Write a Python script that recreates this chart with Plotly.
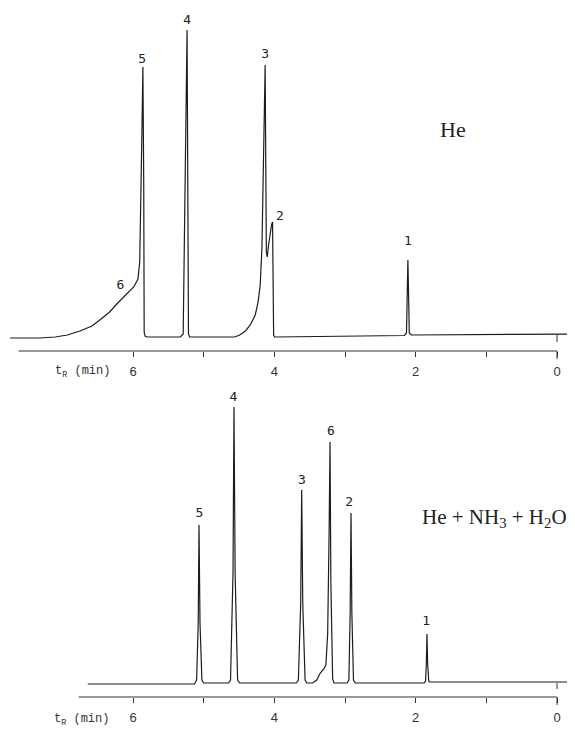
import plotly.graph_objects as go

# ---- Chromatogram 1: carrier gas He (retention time in min, detector signal in a.u.)
he_t = [7.74, 7.32, 7.10, 6.93, 6.75, 6.58, 6.47, 6.33, 6.23, 6.16, 6.07, 5.99, 5.93,
        5.905, 5.875, 5.86, 5.848, 5.842, 5.83, 5.80,
        5.33, 5.29, 5.235, 5.215, 5.20,
        4.56, 4.49, 4.41, 4.34, 4.27, 4.23, 4.20, 4.175, 4.15, 4.13,
        4.12, 4.113, 4.10, 4.085, 4.04, 4.025, 4.018, 4.01, 3.995,
        2.16, 2.13, 2.11, 2.09, 2.06, -0.25]
he_s = [-1, -1, 0, 2, 6, 11, 17, 25, 33, 38, 44, 50, 58,
        75, 200, 270, 150, 5, 1, 0,
        0, 3, 307, 3, 0,
        0, 2, 6, 12, 22, 35, 52, 90, 190, 272,
        160, 85, 80, 90, 112, 115, 60, 2, 0,
        1.5, 4, 77, 4, 2, 3]

# ---- Chromatogram 2: carrier gas He + NH3 + H2O
mix_t = [6.64, 5.13, 5.10, 5.077, 5.066, 5.052, 5.025, 5.00,
         4.65, 4.62, 4.585, 4.571, 4.555, 4.52, 4.49,
         3.69, 3.66, 3.627, 3.613, 3.598, 3.565, 3.54,
         3.46, 3.40, 3.35, 3.30, 3.27, 3.245, 3.225, 3.212, 3.200, 3.175, 3.155,
         2.97, 2.945, 2.927, 2.915, 2.903, 2.88, 2.855,
         1.88, 1.86, 1.849, 1.840, 1.831, 1.815, 1.80,
         -0.25]
mix_s = [-1, -1, 3, 60, 158, 60, 3, 0,
         0, 3, 110, 276, 110, 3, 0,
         0, 3, 80, 193, 80, 3, 0,
         0, 3, 10, 14, 18, 50, 150, 241, 100, 4, 0,
         0, 3, 70, 170, 70, 3, 0,
         0, 2, 20, 49, 20, 2, 1,
         1]

# ---- Peak numbers
he_labels = ["6", "5", "4", "3", "2", "1"]
he_label_t = [6.18, 5.87, 5.235, 4.13, 3.92, 2.11]
he_label_s = [51, 277, 316, 282, 120, 95]

mix_labels = ["5", "4", "3", "6", "2", "1"]
mix_label_t = [5.06, 4.58, 3.61, 3.20, 2.94, 1.85]
mix_label_s = [169, 285, 202, 251, 180, 61]

major_ticks = [0, 2, 4, 6]
major_text = ["0", "2", "4", "6"]
minor_ticks = [1, 3, 5]

# the page body has an 8 px margin: the figure occupies page pixels 8..575 / 8..733
OFF = 8
W, H = 575 - OFF, 733 - OFF
LINE = "#1c1c1c"

def py(p):  # page pixel row -> paper fraction
    return 1 - (p - OFF) / H

def px(p):  # page pixel column -> paper fraction
    return (p - OFF) / W

fig = go.Figure()
fig.add_trace(go.Scatter(x=he_t, y=he_s, mode="lines", line=dict(color=LINE, width=1.2),
                         xaxis="x", yaxis="y", hoverinfo="skip"))
fig.add_trace(go.Scatter(x=mix_t, y=mix_s, mode="lines", line=dict(color=LINE, width=1.2),
                         xaxis="x2", yaxis="y2", hoverinfo="skip"))
fig.add_trace(go.Scatter(x=he_label_t, y=he_label_s, mode="text", text=he_labels,
                         textfont=dict(family="DejaVu Sans Mono", size=13, color="#222"),
                         xaxis="x", yaxis="y", hoverinfo="skip", cliponaxis=False))
fig.add_trace(go.Scatter(x=mix_label_t, y=mix_label_s, mode="text", text=mix_labels,
                         textfont=dict(family="DejaVu Sans Mono", size=13, color="#222"),
                         xaxis="x2", yaxis="y2", hoverinfo="skip", cliponaxis=False))

xrange = [7.769, -0.2547]
xcommon = dict(range=xrange, showgrid=False, zeroline=False, showline=False,
               tickmode="array", tickvals=major_ticks, ticktext=major_text,
               ticks="outside", ticklen=5, tickwidth=1, tickcolor="#333",
               tickfont=dict(family="Liberation Sans", size=13, color="#333"),
               ticklabelstandoff=3, fixedrange=True,
               minor=dict(tickmode="array", tickvals=minor_ticks, ticks="outside",
                          ticklen=5, tickwidth=1, tickcolor="#333", showgrid=False))

fig.update_layout(
    width=W, height=H, margin=dict(l=0, r=0, t=0, b=0),
    paper_bgcolor="white", plot_bgcolor="white", showlegend=False,
    xaxis=dict(domain=[0, 1], anchor="y", **xcommon),
    yaxis=dict(domain=[py(351), 1], range=[-14, 329], visible=False, fixedrange=True),
    xaxis2=dict(domain=[0, 1], anchor="y2", **xcommon),
    yaxis2=dict(domain=[py(697), py(380)], range=[-14, 303], visible=False, fixedrange=True),
)

# axis lines, long zero ticks and injection marks
shapes = [
    dict(type="line", xref="x", yref="y domain", x0=7.62, x1=0, y0=0, y1=0,
         line=dict(color="#333", width=1.2)),
    dict(type="line", xref="x2", yref="y2 domain", x0=6.77, x1=0, y0=0, y1=0,
         line=dict(color="#333", width=1.2)),
    dict(type="line", xref="x", yref="paper", x0=0, x1=0, y0=py(351), y1=py(359),
         line=dict(color="#333", width=1)),
    dict(type="line", xref="x2", yref="paper", x0=0, x1=0, y0=py(697), y1=py(705),
         line=dict(color="#333", width=1)),
    dict(type="line", xref="x", yref="paper", x0=0, x1=0, y0=py(334), y1=py(342),
         line=dict(color="#333", width=1)),
    dict(type="line", xref="x2", yref="paper", x0=0, x1=0, y0=py(683), y1=py(689),
         line=dict(color="#333", width=1)),
]
fig.update_layout(shapes=shapes)

annotations = [
    dict(text="He", x=px(453), y=py(130), xref="paper", yref="paper", showarrow=False,
         font=dict(family="Liberation Serif", size=22, color="#222"), xanchor="center", yanchor="middle"),
    dict(text="He + NH<sub>3</sub> + H<sub>2</sub>O", x=px(420), y=py(518), xref="paper", yref="paper",
         showarrow=False, font=dict(family="Liberation Serif", size=21, color="#222"),
         xanchor="left", yanchor="middle"),
    dict(text="t<sub>R</sub> (min)", x=px(53), y=py(372), xref="paper", yref="paper", showarrow=False,
         font=dict(family="Liberation Mono", size=12, color="#333"), xanchor="left", yanchor="middle"),
    dict(text="t<sub>R</sub> (min)", x=px(52), y=py(720), xref="paper", yref="paper", showarrow=False,
         font=dict(family="Liberation Mono", size=12, color="#333"), xanchor="left", yanchor="middle"),
]
fig.update_layout(annotations=annotations)

fig.write_html("out.html")
